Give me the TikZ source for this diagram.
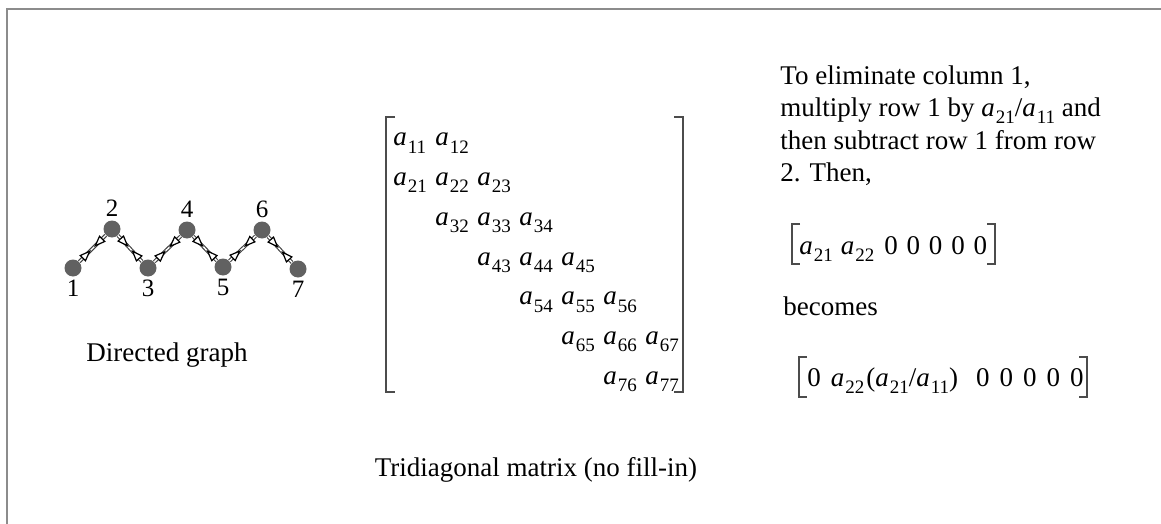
\documentclass[tikz,border=0pt]{standalone}
\usepackage{fontspec}
\setmainfont{Liberation Serif}
\usetikzlibrary{arrows.meta,positioning,decorations.markings}
\newcommand\aent[1]{\textit{a}\kern0.5pt\raisebox{-0.27em}{\fontsize{9.5}{9.5}\selectfont #1}}
\newcommand\gp{\hspace{5pt}}

\begin{document}
\begin{tikzpicture}[x=0.5pt,y=-0.5pt,every node/.style={font=\fontsize{13.5}{16.25}\selectfont,inner sep=1pt},
  vert/.style={circle,fill=black!62,minimum size=8.5pt,inner sep=0pt},
  link/.style={draw=black!75,double=white,double distance=0.7pt,line width=0.55pt},
  twotips/.style={color=black!80,decoration={markings,
    mark=at position 0.44 with {\arrow{Triangle[fill=white,length=6pt,width=4.4pt,line width=0.6pt]}},
    mark=at position 0.56 with {\arrowreversed{Triangle[fill=white,length=6pt,width=4.4pt,line width=0.6pt]}}},decorate},
  vlab/.style={font=\fontsize{12.5}{12.5}\selectfont},
  brk/.style={draw=black!70,line width=0.6pt}]
\useasboundingbox (0,0) rectangle (1161,524);
\draw[black!45,line width=0.8pt] (1161,9) -- (7,9) -- (7,524);

% directed graph
\node[vert,label={[vlab,label distance=0.5pt]below:1}] (v1) at (73,268) {};
\node[vert,label={[vlab,label distance=0.5pt]above:2}] (v2) at (112,229) {};
\node[vert,label={[vlab,label distance=0.5pt]below:3}] (v3) at (148,268) {};
\node[vert,label={[vlab,label distance=0.5pt]above:4}] (v4) at (187,230) {};
\node[vert,label={[vlab,label distance=0.5pt]below:5}] (v5) at (223,267) {};
\node[vert,label={[vlab,label distance=0.5pt]above:6}] (v6) at (262,230) {};
\node[vert,label={[vlab,label distance=0.5pt]below:7}] (v7) at (298,269) {};
\foreach \i/\j in {1/2,2/3,3/4,4/5,5/6,6/7} {
  \draw[link] (v\i) -- (v\j);
  \path[twotips] (v\i) -- (v\j);
}
\node[anchor=base] (gcap) at (167,361) {Directed graph};

% tridiagonal matrix
\foreach \r in {1,...,7} {
  \foreach \c in {1,...,7} {
    \ifnum\numexpr(\r-\c)*(\r-\c)\relax<2
      \node[anchor=base west,inner sep=0pt] (m\r\c) at ({393+42*(\c-1)},{146+39.7*(\r-1)}) {\aent{\r\c}};
    \fi
  }
}
\draw[brk] (395,117) -- (386,117) -- (386,392) -- (395,392);
\draw[brk] (674,117) -- (683,117) -- (683,392) -- (674,392);
\node[anchor=base] (mcap) at (536,476) {Tridiagonal matrix (no fill-in)};

% elimination step
\node[anchor=north west,align=left,inner sep=0pt] (expl) at (780,65)
  {To eliminate column 1,\\multiply row 1 by \aent{21}/\aent{11} and\\then subtract row 1 from row\\2. Then,};
\node[anchor=base west,inner sep=0pt] (rowa) at (799,254)
  {\aent{21}\hspace{4pt}\aent{22}\hspace{5pt}0\hspace{4.4pt}0\hspace{4.4pt}0\hspace{4.4pt}0\hspace{4.4pt}0};
\draw[brk] (800,224) -- (792,224) -- (792,264) -- (800,264);
\draw[brk] (987,224) -- (995,224) -- (995,264) -- (987,264);
\node[anchor=base west,inner sep=0pt] (becm) at (783,315) {becomes};
\node[anchor=base west,inner sep=0pt] (rowb) at (807,386)
  {0\hspace{5pt}\aent{22}\kern1pt(\aent{21}/\aent{11})\hspace{9pt}0\gp 0\gp 0\gp 0\gp 0};
\draw[brk] (807,357) -- (799,357) -- (799,397) -- (807,397);
\draw[brk] (1079,357) -- (1087,357) -- (1087,397) -- (1079,397);
\end{tikzpicture}
\end{document}
